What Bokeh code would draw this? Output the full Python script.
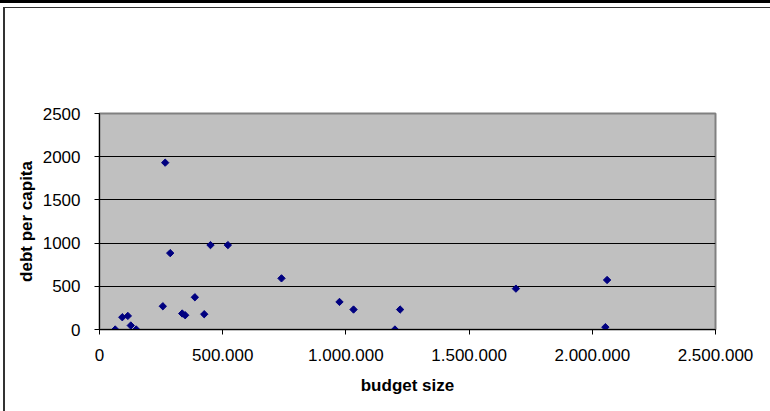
import math
from bokeh.plotting import figure
from bokeh.models import FixedTicker, Range1d
from bokeh.embed import file_html
from bokeh.resources import INLINE

# ---- data ----
budget_size = [63700, 92500, 115000, 127000, 149000, 257000, 266600, 287000,
               335600, 347800, 387000, 425000, 450500, 521000, 738600, 974000,
               1031000, 1199000, 1220000, 1690000, 2060000, 2053000]
debt_per_capita = [0, 142, 157, 46, 0, 269, 1931, 884,
                   185, 165, 373, 177, 977, 977, 592, 319,
                   231, 0, 231, 473, 573, 27]

x_ticks = [0, 500000, 1000000, 1500000, 2000000, 2500000]
x_tick_labels = ["0", "500.000", "1.000.000", "1.500.000", "2.000.000", "2.500.000"]
y_ticks = [0, 500, 1000, 1500, 2000, 2500]

x_title = "budget size"
y_title = "debt per capita"

FONT = "Liberation Sans"

W, H = 770, 411
p = figure(width=W, height=H, output_backend="svg", toolbar_location=None,
           x_range=Range1d(0, 2500000), y_range=Range1d(0, 2500),
           min_border_left=99, min_border_right=55, min_border_top=113,
           min_border_bottom=82)

p.background_fill_color = "#C0C0C0"
p.border_fill_color = None
p.outline_line_color = "#808080"
p.outline_line_width = 2

# chart-area border (drawn as CSS background behind the transparent canvas)
p.styles = {
    "background-color": "white",
    "background-image": (
        "linear-gradient(to bottom, #000 0px, #000 3px, transparent 3px), "
        "linear-gradient(to bottom, transparent 7px, #333 7px, #333 8.5px, transparent 8.5px), "
        "linear-gradient(to right, #333 0px, #333 1.5px, transparent 1.5px)"
    ),
    "background-size": "770px 411px, 767px 411px, 767px 404px",
    "background-position": "0px 0px, 3px 0px, 3px 7px",
    "background-repeat": "no-repeat, no-repeat, no-repeat",
}

# axes
p.xaxis.ticker = FixedTicker(ticks=x_ticks)
p.xaxis.major_label_overrides = {t: l for t, l in zip(x_ticks, x_tick_labels)}
p.yaxis.ticker = FixedTicker(ticks=y_ticks)
for ax in (p.xaxis, p.yaxis):
    ax.axis_line_color = "black"
    ax.axis_line_width = 1
    ax.major_tick_line_color = "black"
    ax.major_tick_in = 0
    ax.major_tick_out = 5
    ax.minor_tick_line_color = None
    ax.major_label_text_font = FONT
    ax.major_label_text_font_size = "17px"
    ax.major_label_text_color = "black"
    ax.axis_label_text_font = FONT
    ax.axis_label_text_font_size = "17px"
    ax.axis_label_text_font_style = "bold"
    ax.axis_label_text_color = "black"

p.xaxis.axis_label = x_title
p.yaxis.axis_label = y_title
p.xaxis.major_label_standoff = 14
p.yaxis.major_label_standoff = 14
p.xaxis.axis_label_standoff = 12
p.yaxis.axis_label_standoff = 4

p.xgrid.grid_line_color = None
p.ygrid.grid_line_color = "black"
p.ygrid.grid_line_width = 1

p.scatter(budget_size, debt_per_capita, marker="square", angle=math.pi / 4,
          size=5.2, fill_color="#000080", line_color="#000080")

open("out.html", "w").write(file_html(p, INLINE))
